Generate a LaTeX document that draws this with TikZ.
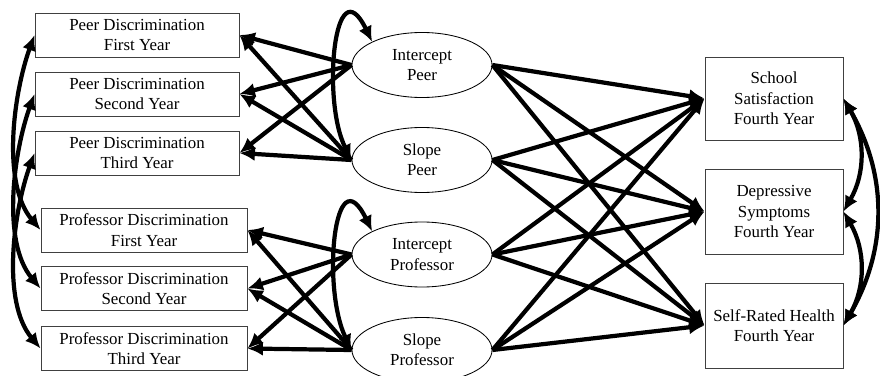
\documentclass[tikz,border=0pt]{standalone}
\usepackage{fontspec}
\setmainfont{Liberation Serif}
\usetikzlibrary{arrows.meta,shapes.geometric}

\tikzset{every picture/.style={line width=0.6pt}}

\begin{document}
\begin{tikzpicture}[x=0.025cm, y=-0.025cm,
    obs/.style={draw=black!75, rectangle, align=center, inner sep=0pt,
        font=\fontsize{12}{14.5}\selectfont},
    lat/.style={draw, ellipse, align=center, inner sep=0pt,
        minimum width=3.5cm, minimum height=1.625cm,
        font=\fontsize{12}{14.5}\selectfont},
    reg/.style={line width=3pt, -{Latex[length=11pt,width=10pt]}},
    cov/.style={line width=3pt, {Latex[length=11pt,width=10pt]}-{Latex[length=11pt,width=10pt]}}]
    \useasboundingbox (0,0) rectangle (880,375);

    % observed: discrimination
    \node[obs, minimum width=5.1cm, minimum height=1.1cm] (p1) at (137,35) {Peer Discrimination\\First Year};
    \node[obs, minimum width=5.1cm, minimum height=1.1cm] (p2) at (137,94) {Peer Discrimination\\Second Year};
    \node[obs, minimum width=5.1cm, minimum height=1.1cm] (p3) at (137,153) {Peer Discrimination\\Third Year};
    \node[obs, minimum width=5.15cm, minimum height=1.1cm] (q1) at (144,230) {Professor Discrimination\\First Year};
    \node[obs, minimum width=5.15cm, minimum height=1.1cm] (q2) at (144,288.5) {Professor Discrimination\\Second Year};
    \node[obs, minimum width=5.15cm, minimum height=1.1cm] (q3) at (144,348.5) {Professor Discrimination\\Third Year};

    % latent growth factors
    \node[lat] (ip) at (422,65) {Intercept\\Peer};
    \node[lat] (sp) at (422,160) {Slope\\Peer};
    \node[lat] (iq) at (422,254.5) {Intercept\\Professor};
    \node[lat] (sq) at (422,350) {Slope\\Professor};

    % outcomes
    \node[obs, minimum width=3.45cm, minimum height=2.075cm] (ss) at (774,98.5) {School\\Satisfaction\\Fourth Year};
    \node[obs, minimum width=3.45cm, minimum height=2.125cm] (ds) at (774,211.5) {Depressive\\Symptoms\\Fourth Year};
    \node[obs, minimum width=3.45cm, minimum height=2.125cm] (hs) at (774,325.5) {Self-Rated Health\\Fourth Year};

    % loadings
    \draw[reg] (ip.west) -- (p1.east);
    \draw[reg] (ip.west) -- (p2.east);
    \draw[reg] (ip.west) -- (p3.east);
    \draw[reg] (sp.west) -- (p1.east);
    \draw[reg] (sp.west) -- (p2.east);
    \draw[reg] (sp.west) -- (p3.east);
    \draw[reg] (iq.west) -- (q1.east);
    \draw[reg] (iq.west) -- (q2.east);
    \draw[reg] (iq.west) -- (q3.east);
    \draw[reg] (sq.west) -- (q1.east);
    \draw[reg] (sq.west) -- (q2.east);
    \draw[reg] (sq.west) -- (q3.east);

    % paths to outcomes
    \draw[reg] (ip.east) -- (ss.west);
    \draw[reg] (ip.east) -- (ds.west);
    \draw[reg] (ip.east) -- (hs.west);
    \draw[reg] (sp.east) -- (ss.west);
    \draw[reg] (sp.east) -- (ds.west);
    \draw[reg] (sp.east) -- (hs.west);
    \draw[reg] (iq.east) -- (ss.west);
    \draw[reg] (iq.east) -- (ds.west);
    \draw[reg] (iq.east) -- (hs.west);
    \draw[reg] (sq.east) -- (ss.west);
    \draw[reg] (sq.east) -- (ds.west);
    \draw[reg] (sq.east) -- (hs.west);

    % intercept-slope covariances
    \draw[cov] (sp.west) .. controls +(-30,-59) and +(-38,-78) .. (ip.155);
    \draw[cov] (sq.west) .. controls +(-30,-62) and +(-38,-78) .. (iq.155);

    % covariances between years
    \draw[cov] (p1.west) to[out=250, in=130, looseness=0.8] (q1.west);
    \draw[cov] (p2.west) to[out=250, in=130, looseness=0.8] (q2.west);
    \draw[cov] (p3.west) to[out=250, in=130, looseness=0.8] (q3.west);

    % outcome covariances
    \draw[cov] (ss.east) to[out=-60, in=60] (ds.east);
    \draw[cov] (ds.east) to[out=-60, in=60] (hs.east);
    \draw[cov] (ss.east) to[out=-60, in=60] (hs.east);
\end{tikzpicture}
\end{document}
